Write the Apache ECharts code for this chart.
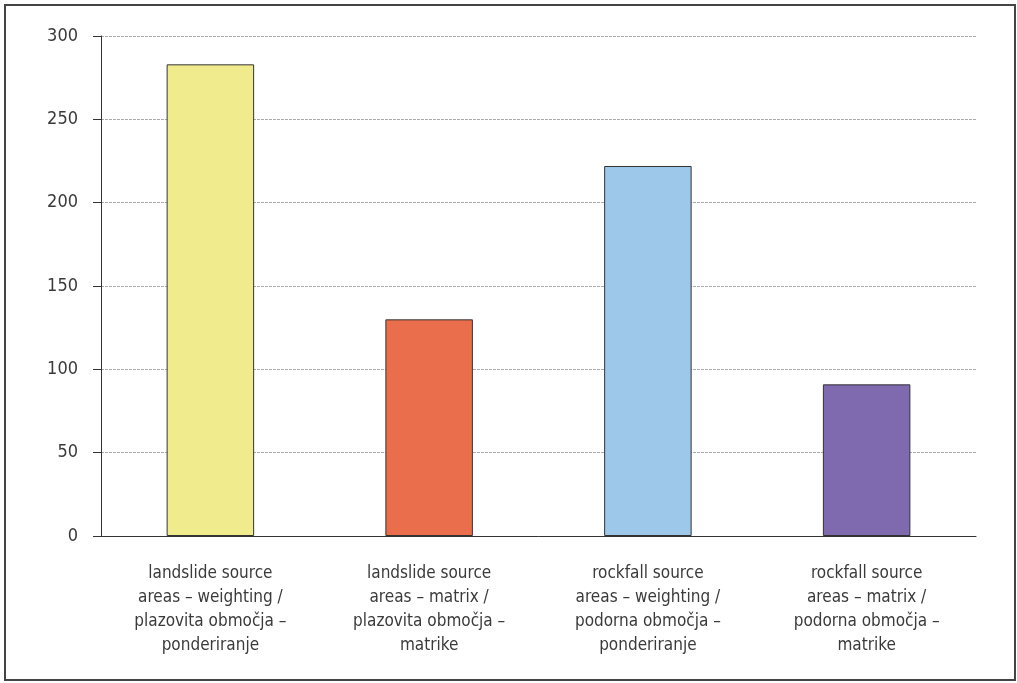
<!DOCTYPE html>
<html>
<head>
<meta charset="utf-8">
<style>
  html, body { margin: 0; padding: 0; background: #fff; }
  #chart { width: 1017px; height: 683px; }
</style>
<script src="https://cdn.jsdelivr.net/npm/echarts@6/dist/echarts.min.js"></script>
</head>
<body>
<div id="chart"></div>
<script>
// Source-area categories (two-language labels)
const categories = [
  'landslide source\nareas – weighting /\nplazovita območja –\nponderiranje',
  'landslide source\nareas – matrix /\nplazovita območja –\nmatrike',
  'rockfall source\nareas – weighting /\npodorna območja –\nponderiranje',
  'rockfall source\nareas – matrix /\npodorna območja –\nmatrike'
];
const values = [283, 130, 222, 91];
const barColors = ['#F0EC8E', '#EA6E4B', '#9DC8EA', '#7F69AF'];
const yTicks = { min: 0, max: 300, interval: 50 };

const FONT = '"Liberation Sans Narrow", "DejaVu Sans Condensed", "Liberation Sans", sans-serif';

const chart = echarts.init(document.getElementById('chart'), null, { renderer: 'canvas' });

chart.setOption({
  animation: false,
  backgroundColor: '#ffffff',
  grid: { left: 101, right: 41, top: 36, bottom: 147, containLabel: false },
  xAxis: {
    type: 'category',
    data: categories,
    axisLine: { show: true, lineStyle: { color: '#333', width: 1 } },
    axisTick: { show: false },
    axisLabel: {
      interval: 0,
      margin: 26,
      color: '#3a3a3a',
      fontFamily: FONT,
      fontSize: 17,
      lineHeight: 24,
      align: 'center'
    },
    splitLine: { show: false }
  },
  yAxis: {
    type: 'value',
    min: yTicks.min,
    max: yTicks.max,
    interval: yTicks.interval,
    axisLine: { show: true, lineStyle: { color: '#333', width: 1 } },
    axisTick: { show: true, length: 8, lineStyle: { color: '#333', width: 1 } },
    axisLabel: {
      margin: 23,
      color: '#3a3a3a',
      fontFamily: FONT,
      fontSize: 18
    },
    splitLine: {
      show: true,
      lineStyle: { color: '#aaaaaa', width: 1, type: [3, 1] }
    }
  },
  series: [{
    type: 'bar',
    data: values.map((v, i) => ({ value: v, itemStyle: { color: barColors[i] } })),
    barWidth: '40%',
    itemStyle: { borderColor: '#333', borderWidth: 1 }
  }],
  graphic: [{
    type: 'rect',
    shape: { x: 5, y: 5, width: 1010, height: 675 },
    style: { fill: 'none', stroke: '#444', lineWidth: 2 },
    silent: true,
    z: 100
  }]
});
</script>
</body>
</html>
